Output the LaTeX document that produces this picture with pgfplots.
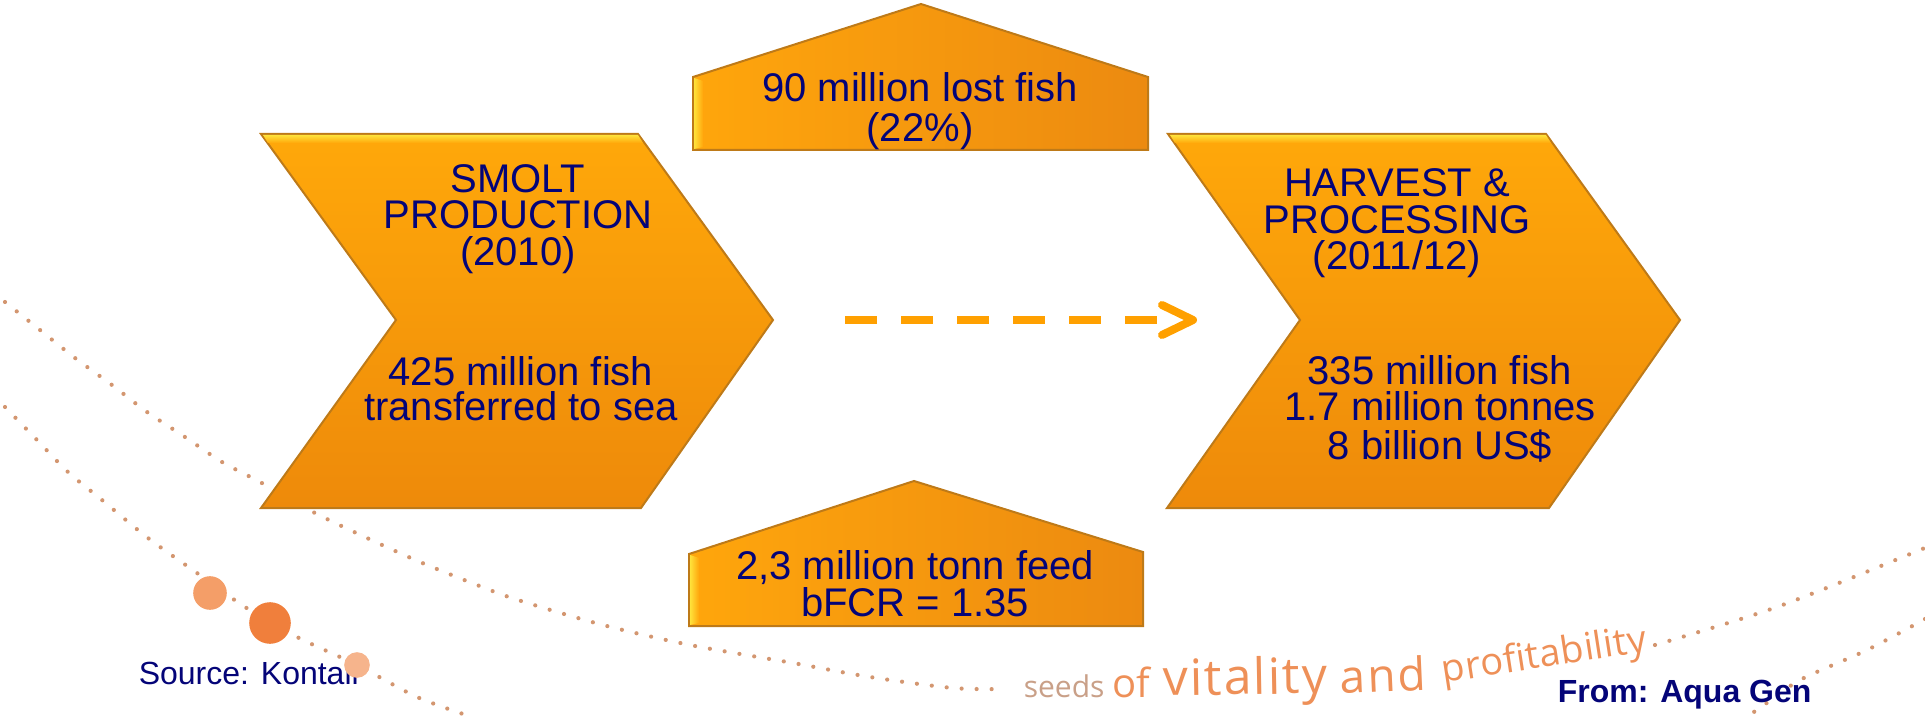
\documentclass[border=0pt]{standalone}
\usepackage{pgfplots}
\pgfplotsset{compat=1.18}
\usepackage{fontspec}
\setmainfont{Liberation Sans}
\newfontfamily\tagfont{Open Sans}
\definecolor{navy}{RGB}{4,4,120}
\definecolor{chtop}{HTML}{FFA80A}
\definecolor{chbot}{HTML}{EE8A0A}
\definecolor{hleft}{HTML}{FFA60C}
\definecolor{hright}{HTML}{EC8A10}
\definecolor{bevel}{HTML}{FFE23A}
\definecolor{edge}{HTML}{BE7A18}
\definecolor{arrowcol}{HTML}{FFA000}
\definecolor{dotcol}{HTML}{D39670}
\definecolor{ballA}{HTML}{F49E68}
\definecolor{ballB}{HTML}{F07F3C}
\definecolor{ballC}{HTML}{F6B48C}
\definecolor{tagA}{HTML}{C9A088}
\definecolor{tagB}{HTML}{EE9058}
\begin{document}
\begin{tikzpicture}[
  txt/.style={font=\fontsize{10}{10}\selectfont, text=navy, anchor=base, inner sep=0pt},
  tag/.style={anchor=base west, inner sep=0pt, text=tagB},
]
\begin{axis}[
  name=ax, x=0.25pt, y=0.25pt,
  xmin=0, xmax=1925, ymin=0, ymax=718,
  hide axis, clip=false,
  dots/.style={dotcol, line width=1.05pt, line cap=round, dash pattern=on 0pt off 3.75pt, smooth},
]
% background dotted swooshes
\addplot[dots] coordinates {(5,416)(40,388)(75,360)(112,333)(147,306)(185,281)(222,256)(260,236)
               (313,206)(367,180)(420,156)(477,133)(518,118)(603,93)(690,73)(793,55)
               (870,41)(953,30)(1005,29)};
\addplot[dots] coordinates {(1655,73)(1777,111)(1915,166)(1925,171)};
\addplot[dots] coordinates {(1925,99)(1867,68)(1800,38)(1757,8)(1742,0)};
\addplot[dots] coordinates {(5,311)(37,278)(68,246)(102,218)(148,180)(197,145)(245,111)(297,81)
               (357,53)(417,21)(472,1)};
\addplot[ballA, only marks, mark=*, mark size=4pt] coordinates {(210,125)};
\addplot[ballB, only marks, mark=*, mark size=5pt] coordinates {(270,95)};
\addplot[ballC, only marks, mark=*, mark size=3pt] coordinates {(357,53)};

% chevrons
\addplot[draw=edge, line width=0.5pt, top color=chtop, bottom color=chbot]
  coordinates {(261,584)(638,584)(773,398)(641,210)(261,210)(396,398)} -- cycle;
\addplot[draw=none, top color=bevel, bottom color=chtop]
  coordinates {(263,583)(638,583)(643,575)(268,575)} -- cycle;
\addplot[draw=edge, line width=0.5pt, top color=chtop, bottom color=chbot]
  coordinates {(1168,584)(1546,584)(1680,398)(1549,210)(1167,210)(1300,398)} -- cycle;
\addplot[draw=none, top color=bevel, bottom color=chtop]
  coordinates {(1170,583)(1546,583)(1551,575)(1175,575)} -- cycle;

% houses
\addplot[draw=edge, line width=0.5pt, left color=hleft, right color=hright]
  coordinates {(693,568)(693,641)(921,714)(1148,641)(1148,568)} -- cycle;
\addplot[draw=none, left color=bevel, right color=hleft]
  coordinates {(694,569)(694,640)(703,637)(703,571)} -- cycle;
\addplot[draw=edge, line width=0.5pt, left color=hleft, right color=hright]
  coordinates {(689,92)(689,164)(914,237)(1143,166)(1143,92)} -- cycle;
\addplot[draw=none, left color=bevel, right color=hleft]
  coordinates {(690,93)(690,163)(699,160)(699,95)} -- cycle;

% dashed arrow
\addplot[arrowcol, line width=2pt, dash pattern=on 8pt off 6pt] coordinates {(845,398)(1157,398)};
\addplot[arrowcol, line width=2pt, line cap=round, line join=round] coordinates {(1162,413)(1193,398)(1162,383)};

% texts
\node[txt] at (axis cs:518,525) {SMOLT};
\node[txt] at (axis cs:518,489) {PRODUCTION};
\node[txt] at (axis cs:518,452) {(2010)};
\node[txt] at (axis cs:521,333) {425 million fish};
\node[txt] at (axis cs:521,297) {transferred to sea};
\node[txt] at (axis cs:1397,521) {HARVEST \&};
\node[txt] at (axis cs:1397,484) {PROCESSING};
\node[txt] at (axis cs:1397,448) {(2011/12)};
\node[txt] at (axis cs:1440,334) {335 million fish};
\node[txt] at (axis cs:1440,297) {1.7 million tonnes};
\node[txt] at (axis cs:1440,259) {8 billion US\$};
\node[txt] at (axis cs:920,616) {90 million lost fish};
\node[txt] at (axis cs:920,576) {(22\%)};
\node[txt] at (axis cs:915,139) {2,3 million tonn feed};
\node[txt] at (axis cs:915,102) {bFCR = 1.35};
\node[txt, anchor=base west, font=\fontsize{8}{8}\selectfont] at (axis cs:138,34) {Source: Kontali};
\node[txt, anchor=base west, font=\fontsize{8}{8}\selectfont\bfseries] at (axis cs:1557,16) {From: Aqua Gen};

% tagline
\node[tag, text=tagA, font=\tagfont\fontsize{7.5}{7.5}\selectfont] at (axis cs:1023,21) {seeds};
\node[tag, font=\tagfont\fontsize{10}{10}\selectfont] at (axis cs:1112,21) {of};
\node[tag, rotate=1, font=\tagfont\addfontfeature{LetterSpace=3.5}\fontsize{12.5}{12.5}\selectfont] at (axis cs:1163,22) {vitality};
\node[tag, rotate=2.5, font=\tagfont\addfontfeature{LetterSpace=4}\fontsize{11.5}{11.5}\selectfont] at (axis cs:1340,24) {and};
\node[tag, rotate=8.8, font=\tagfont\addfontfeature{LetterSpace=1}\fontsize{9.5}{9.5}\selectfont] at (axis cs:1443,35) {profitability};
\end{axis}
\pgfresetboundingbox
\path[use as bounding box] (ax.south west) rectangle (ax.north east);
\end{tikzpicture}
\end{document}
